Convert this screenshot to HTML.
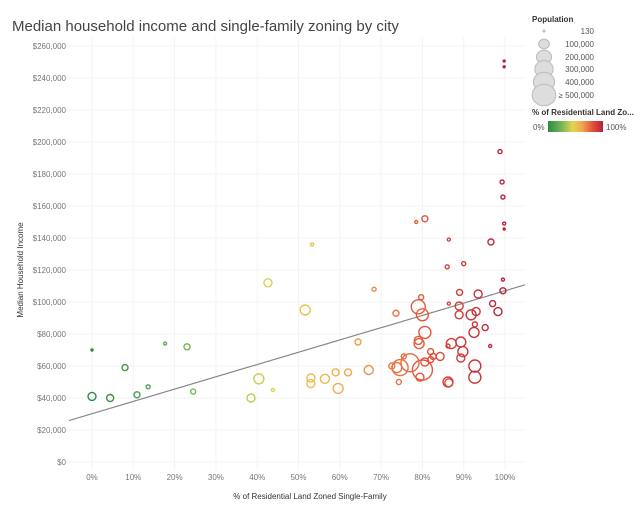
<!DOCTYPE html>
<html><head><meta charset="utf-8"><style>
body{margin:0;background:#fff;font-family:"Liberation Sans",sans-serif}
svg text{font-family:"Liberation Sans",sans-serif}
</style></head><body>
<svg id="c" width="640" height="509" viewBox="0 0 640 509">
<defs><linearGradient id="g" x1="0" x2="1">
<stop offset="0" stop-color="#2a8a45"/><stop offset="0.25" stop-color="#7ab55a"/><stop offset="0.45" stop-color="#e2d64f"/><stop offset="0.62" stop-color="#f3a64e"/><stop offset="0.82" stop-color="#e0503a"/><stop offset="1" stop-color="#b5213d"/></linearGradient></defs>
<text x="12" y="31" font-size="15" fill="#444">Median household income and single-family zoning by city</text>
<g id="grid"></g><g id="axes"></g><g id="marks"></g>
<text transform="translate(23,270) rotate(-90)" text-anchor="middle" font-size="8" fill="#333">Median Household Income</text>
<text x="310" y="499" text-anchor="middle" font-size="8" fill="#333">% of Residential Land Zoned Single-Family</text>
<g>
<text x="532" y="22" font-size="8" fill="#333" font-weight="bold">Population</text>
<g id="sizeleg"></g>
<text x="532" y="115" font-size="8" fill="#333" font-weight="bold">% of Residential Land Zo...</text>
<text x="533" y="130" font-size="8" fill="#555">0%</text>
<rect x="548" y="121" width="55" height="11" fill="url(#g)"/>
<text x="606" y="130" font-size="8" fill="#555">100%</text>
</g>
</svg>
<script>
const pct=[0,0,4.4,8,10.9,13.6,17.7,23,24.5,42.6,38.5,40.4,43.8,51.6,53.3,53,53,56.4,59,59.6,62,64.4,68.3,67,73.6,72.6,74.6,77,80,79,80,79.7,80.6,79,79.2,86,90,89,93.5,99.5,99.5,86.4,88.9,97,88.9,91.8,93,98.3,92.7,95.2,92.5,87,89.3,86.2,89.8,89.3,96.4,82,82.6,84.3,82,80.6,92.7,92.7,86.2,86.4,74.3,79.4,75.5,73.8,78.5,80.6,86.4,96.6,98.8,99.3,99.5,99.8,99.8,99.8,99.8];
const income=[70,41,40,59,42,47,74,72,44,112,40,52,45,95,136,52.5,49,52,56,46,56,75,108,57.5,93,60,59,62,57.5,97,92,103,81,76,74,122,124,106,105,114,107,99,97.5,99,92,92,94,94,86,84,81,74,75,72.5,69,65,72.5,69,66,66,64,62.5,60,53,50,49.5,50,53,66,59,150,152,139,137.5,194,175,165.6,149,145.6,250.6,247];
const pop=[6,99,76,56,56,25,14,56,39,99,99,154,14,154,14,99,99,125,76,154,76,56,25,125,56,56,395,500,617,302,222,39,222,99,154,25,25,56,99,14,56,14,99,56,99,154,99,99,39,56,154,154,154,25,154,99,14,56,56,99,56,99,222,222,154,99,39,99,39,154,14,56,14,56,25,25,25,14,6,6,6];
const yTicks=[0,20,40,60,80,100,120,140,160,180,200,220,240,260];
const xTicks=[0,10,20,30,40,50,60,70,80,90,100];
const trend=[30.2,107];
const legendPops=[0.13,100,200,300,400,500];
const legendLabels=["130","100,000","200,000","300,000","400,000","≥ 500,000"];
const NS="http://www.w3.org/2000/svg";
const X=p=>92+4.13*p, Y=v=>462-1.6*v, R=p=>Math.max(1,9*Math.sqrt(p/500));
const stops=[[0,[42,138,69]],[25,[122,181,90]],[45,[226,214,79]],[62,[243,166,78]],[82,[224,80,58]],[100,[181,33,61]]];
function col(p){for(let i=1;i<stops.length;i++){if(p<=stops[i][0]){const a=stops[i-1],b=stops[i],t=(p-a[0])/(b[0]-a[0]);return 'rgb('+a[1].map((c,k)=>Math.round(c+(b[1][k]-c)*t)).join(',')+')';}}return 'rgb(181,33,61)';}
function mk(t,a,parent){const e=document.createElementNS(NS,t);for(const k in a)e.setAttribute(k,a[k]);document.getElementById(parent).appendChild(e);return e;}
yTicks.forEach(v=>{
const l=mk('line',{x1:69,x2:525,y1:Y(v),y2:Y(v),stroke:'#f3f3f3'},'grid');


const t=mk('text',{x:66,y:Y(v)+3,'text-anchor':'end','font-size':8,fill:'#777'},'axes');
t.textContent='$'+(v*1000).toLocaleString('en-US');


});
xTicks.forEach(p=>{
const l=mk('line',{x1:X(p),x2:X(p),y1:37,y2:470,stroke:'#f3f3f3'},'grid');


const t=mk('text',{x:X(p),y:480,'text-anchor':'middle','font-size':8,fill:'#777'},'axes');
t.textContent=p+'%';


});
const slope=(trend[1]-trend[0])/100;
const tl=mk('line',{x1:69,y1:Y(trend[0]+slope*(-23/4.13)),x2:525,y2:Y(trend[0]+slope*((525-92)/4.13)),stroke:'#888','stroke-width':1.2},'marks');


const order=pct.map((_,i)=>i).sort((a,b)=>pop[b]-pop[a]);
order.forEach(i=>{
const c=mk('circle',{cx:X(pct[i]),cy:Y(income[i]),r:R(pop[i]),fill:pop[i]<10?col(pct[i]):'none',stroke:col(pct[i]),'stroke-width':1.4},'marks');


});
const ly=[31,44,57,69,82,95];
legendPops.forEach((p,i)=>{
const r=p<1?1:R(p)*1.2;
const c=mk('ellipse',{cx:544,cy:ly[i],rx:r*1.1,ry:r,fill:'#ddd',stroke:'#bbb','stroke-width':1},'sizeleg');


const t=mk('text',{x:594,y:ly[i]+3,'text-anchor':'end','font-size':8,fill:'#555'},'sizeleg');
t.textContent=legendLabels[i];


});
</script>
</body></html>
